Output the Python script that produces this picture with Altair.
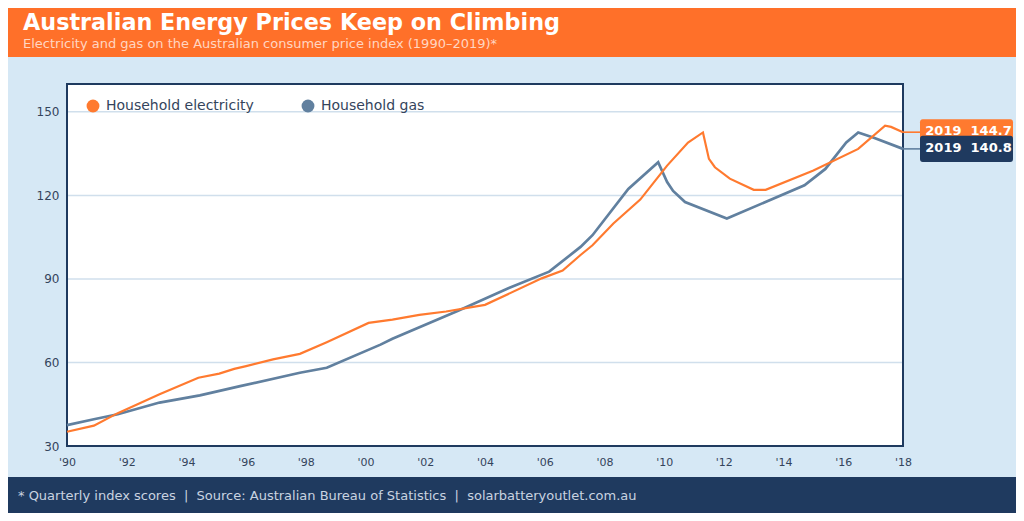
import altair as alt
import pandas as pd

# ---------------- data ----------------
series_names = ["Household electricity", "Household gas"]

elec_years = [1990.0, 1990.9, 1991.7, 1993.1, 1994.4, 1995.1, 1995.6, 1996.0, 1996.9, 1997.8,
              1998.7, 2000.1, 2000.9, 2001.8, 2002.7, 2004.0, 2005.9, 2006.6, 2007.2, 2007.6,
              2008.3, 2009.2, 2010.1, 2010.8, 2011.3, 2011.5, 2011.7, 2012.2, 2013.0, 2013.4,
              2015.0, 2016.5, 2017.4, 2017.6, 2018.0]
elec_values = [35.1, 37.3, 41.8, 48.6, 54.5, 56.0, 57.7, 58.7, 61.1, 63.1,
               67.3, 74.2, 75.4, 77.1, 78.3, 80.7, 90.2, 93.0, 98.6, 102.1,
               109.9, 118.5, 130.7, 139.0, 142.6, 133.1, 130.1, 126.0, 122.0, 122.0,
               128.9, 136.7, 145.0, 144.6, 142.7]

gas_years = [1990.0, 1990.9, 1991.7, 1993.1, 1994.45, 1995.8, 1997.8, 1998.7, 2000.5, 2000.9,
             2003.1, 2004.8, 2006.15, 2007.2, 2007.6, 2008.8, 2009.8, 2010.1, 2010.3, 2010.7,
             2012.1, 2014.7, 2015.4, 2016.1, 2016.5, 2017.0, 2018.0]
gas_values = [37.5, 39.6, 41.4, 45.6, 48.2, 51.5, 56.3, 58.1, 66.4, 68.5,
              78.6, 86.7, 92.6, 101.5, 105.7, 122.3, 131.9, 124.8, 121.6, 117.6,
              111.7, 123.6, 129.5, 139.0, 142.6, 140.8, 136.7]

NB = "\u00a0"
end_labels = ["2019" + NB * 2 + "144.7", "2019" + NB * 2 + "140.8"]
y_ticks = [30, 60, 90, 120, 150]
x_ticks = list(range(1990, 2019, 2))

title_text = "Australian Energy Prices Keep on Climbing"
subtitle_text = "Electricity and gas on the Australian consumer price index (1990\u20132019)*"
SEP = NB + NB + "|" + NB + NB
footer_text = ("*" + NB + "Quarterly index scores" + SEP + "Source: Australian Bureau of Statistics"
               + SEP + "solarbatteryoutlet.com.au")

# ---------------- styles ----------------
ORANGE = "#FF7A2F"
HEADER = "#FF7029"
SLATE = "#61809F"
NAVY = "#1F3A5F"
BG = "#D6E8F5"
GRID = "#D0DFEC"
TXT = "#34445C"
FONT = "DejaVu Sans"

W, H = 836, 362
PAD = {"left": 59, "top": 76, "right": 113, "bottom": 67}

elec_df = pd.DataFrame({"series": series_names[0], "year": elec_years, "value": elec_values})
gas_df = pd.DataFrame({"series": series_names[1], "year": gas_years, "value": gas_values})

ends = pd.DataFrame({
    "series": series_names,
    "year": [elec_years[-1], gas_years[-1]],
    "value": [elec_values[-1], gas_values[-1]],
    "label": end_labels,
})
grid_df = pd.DataFrame({"value": y_ticks[1:]})

x_scale = alt.Scale(domain=[1990, 2018], nice=False, zero=False)
y_scale = alt.Scale(domain=[30, 160], nice=False, zero=False)
color_scale = alt.Scale(domain=series_names, range=[ORANGE, SLATE])

x_axis = alt.Axis(values=x_ticks, title=None, grid=False, domain=False, ticks=False,
                  tickSize=0, labelFont=FONT, labelFontSize=11, labelColor=TXT,
                  labelPadding=10, labelFlush=False,
                  labelExpr="\"'\" + slice(toString(datum.value), 2)")
y_axis = alt.Axis(values=y_ticks, title=None, grid=False, domain=False, ticks=False,
                  tickSize=0, labelFont=FONT, labelFontSize=12, labelColor=TXT,
                  labelPadding=8, labelFlush=False)

legend = alt.Legend(
    title=None, orient="none", legendX=19, legendY=15, direction="horizontal",
    padding=0, symbolType="circle", symbolSize=165, symbolStrokeWidth=0, symbolOpacity=1,
    labelFont=FONT, labelFontSize=14, labelColor=TXT, labelOffset=6,
    columnPadding=47,
)
color_enc = alt.Color("series:N", scale=color_scale, legend=legend)
X = alt.X("year:Q", scale=x_scale, axis=x_axis)
Y = alt.Y("value:Q", scale=y_scale, axis=y_axis)

one = alt.Data(values=[{"title": title_text, "subtitle": subtitle_text, "footer": footer_text}])

header = alt.Chart(one).mark_rect(color=HEADER).encode(
    x=alt.value(-PAD["left"]), x2=alt.value(W + PAD["right"]),
    y=alt.value(-PAD["top"]), y2=alt.value(-27),
)
footer = alt.Chart(one).mark_rect(color=NAVY).encode(
    x=alt.value(-PAD["left"]), x2=alt.value(W + PAD["right"]),
    y=alt.value(393), y2=alt.value(H + PAD["bottom"]),
)
title = alt.Chart(one).mark_text(font=FONT, fontSize=22.3, fontWeight="bold", color="white",
                                 align="left", baseline="alphabetic").encode(
    x=alt.value(-44), y=alt.value(-54), text="title:N")
subtitle = alt.Chart(one).mark_text(font=FONT, fontSize=13, color="#FFD6C2",
                                    align="left", baseline="alphabetic").encode(
    x=alt.value(-44), y=alt.value(-36), text="subtitle:N")
footer_txt = alt.Chart(one).mark_text(font=FONT, fontSize=13, color="#C9D3E0",
                                      align="left", baseline="middle").encode(
    x=alt.value(-49), y=alt.value(412), text="footer:N")

plot_bg = alt.Chart(one).mark_rect(fill="white", stroke=NAVY, strokeWidth=2).encode(
    x=alt.value(0), x2=alt.value(W), y=alt.value(0), y2=alt.value(H))

grid = alt.Chart(grid_df).mark_rule(color=GRID, strokeWidth=1.5).encode(
    y=Y, x=alt.value(1), x2=alt.value(W - 1))

# filled-circle legend (no visible marks of its own)
legend_layer = alt.Chart(ends).transform_filter("false").mark_point(
    filled=True, opacity=1).encode(color=color_enc)

gas_line = alt.Chart(gas_df).mark_line(strokeWidth=2.7).encode(x=X, y=Y, color=color_enc)
elec_line = alt.Chart(elec_df).mark_line(strokeWidth=2.2).encode(x=X, y=Y, color=color_enc)

connectors = alt.Chart(ends).mark_rule(strokeWidth=1.6).encode(
    x=X, x2=alt.value(853), y=Y, color=color_enc)

BOX = ("M -0.94 -0.28 L 0.94 -0.28 Q 1 -0.28 1 -0.215 L 1 0.215 Q 1 0.28 0.94 0.28 "
       "L -0.94 0.28 Q -1 0.28 -1 0.215 L -1 -0.215 Q -1 -0.28 -0.94 -0.28 Z")


def box(name, fill):
    return alt.Chart(ends).transform_filter(alt.datum.series == name).mark_point(
        shape=BOX, filled=True, size=93 * 93, opacity=1, strokeWidth=0, fill=fill
    ).encode(x=alt.value(899.5), y=Y)


box_text = alt.Chart(ends).mark_text(font=FONT, fontSize=13, fontWeight="bold", color="white",
                                     align="center", baseline="middle", dx=2, dy=-1).encode(
    x=alt.value(899.5), y=Y, text="label:N",
)

chart = alt.layer(
    header, footer, title, subtitle, footer_txt, plot_bg, grid, legend_layer,
    gas_line, elec_line, connectors,
    box(series_names[0], ORANGE), box(series_names[1], NAVY), box_text
).properties(
    width=W, height=H, padding=PAD,
    autosize=alt.AutoSizeParams(type="none"),
    background=BG,
).configure_view(
    strokeWidth=0,
)

chart.save("out.html", embed_options={"renderer": "svg", "actions": False})
